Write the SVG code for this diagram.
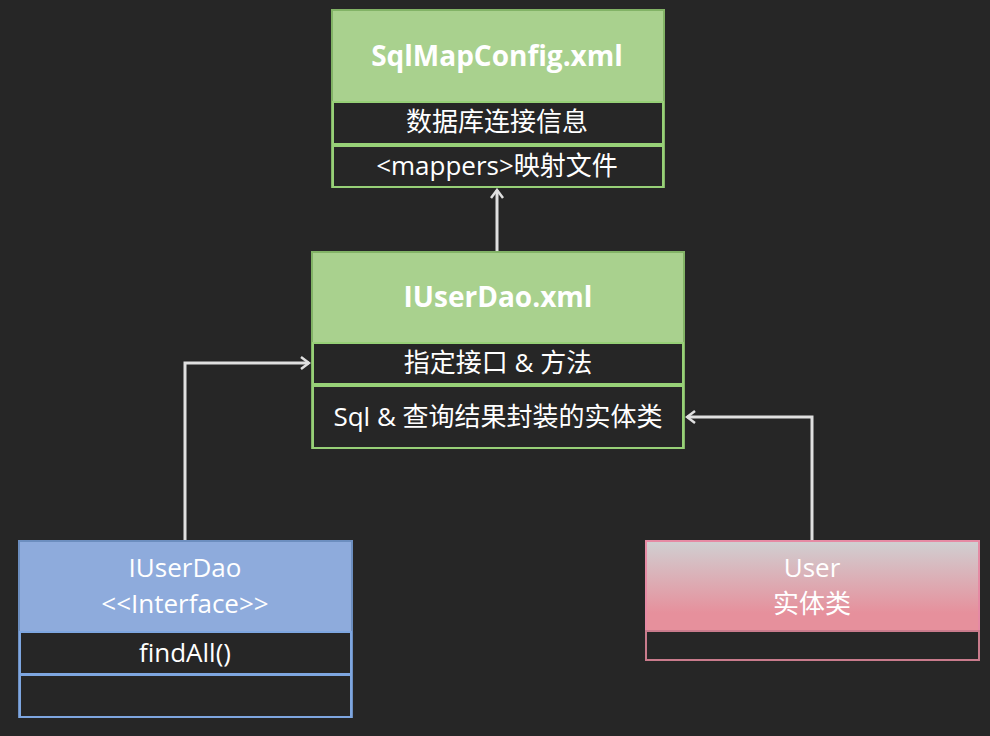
<svg xmlns="http://www.w3.org/2000/svg" width="990" height="736" viewBox="0 0 990 736">
<defs>
<style>
text{font-family:"Open Sans","Noto Sans CJK SC",sans-serif;fill:#ffffff;text-anchor:middle;dominant-baseline:central;font-size:26px}
.title{font-weight:bold;font-size:28px}
.g{stroke:#82b366;stroke-width:2;fill:#a9d18e}
.gr{stroke:#97d077;stroke-width:2;fill:#262626}
.b{stroke:#6c8ebf;stroke-width:2;fill:#8eabdc}
.br{stroke:#7ea6e0;stroke-width:2;fill:#262626}
.p{stroke:#e68aa4;stroke-width:2;fill:url(#pg)}
.pr{stroke:#c97b8c;stroke-width:2;fill:#262626}
.c{fill:none;stroke:#e0e0e0;stroke-width:3;marker-end:url(#arr)}
</style>
<linearGradient id="pg" x1="0" y1="0" x2="0" y2="1">
<stop offset="0" stop-color="#d0d0d2"/>
<stop offset="0.8" stop-color="#e6909c"/>
<stop offset="1" stop-color="#e6909c"/>
</linearGradient>
<marker id="arr" markerWidth="12" markerHeight="14" refX="10" refY="7" orient="auto" markerUnits="userSpaceOnUse">
<path d="M2,1 L10,7 L2,13" fill="none" stroke="#e0e0e0" stroke-width="2.5"/>
</marker>
</defs>
<rect width="990" height="736" fill="#262626"/>
<g id="connectors">
<path class="c" d="M497,251 V190"/>
<path class="c" d="M185,540 V363 H309"/>
<path class="c" d="M812,540 V417 H687"/>
</g>
<g id="sqlmapconfig">
<rect class="g" x="332" y="10" width="332" height="177"/>
<rect class="gr" x="333" y="102" width="330" height="42"/>
<rect class="gr" x="333" y="146" width="330" height="41"/>
<text class="title" x="497" y="55">SqlMapConfig.xml</text>
<text x="497" y="121">数据库连接信息</text>
<text x="497" y="165">&lt;mappers&gt;映射文件</text>
</g>
<g id="iuserdaoxml">
<rect class="g" x="312" y="252" width="372" height="196"/>
<rect class="gr" x="313" y="343" width="370" height="41"/>
<rect class="gr" x="313" y="386" width="370" height="62"/>
<text class="title" x="498" y="296">IUserDao.xml</text>
<text x="498" y="362">指定接口 &amp; 方法</text>
<text x="498" y="416">Sql &amp; 查询结果封装的实体类</text>
</g>
<g id="iuserdao">
<rect class="b" x="19" y="541" width="333" height="176"/>
<rect class="br" x="20" y="632" width="331" height="42"/>
<rect class="br" x="20" y="675" width="331" height="42"/>
<text x="185" y="567">IUserDao</text>
<text x="185" y="603">&lt;&lt;Interface&gt;&gt;</text>
<text x="185" y="652">findAll()</text>
</g>
<g id="user">
<rect class="p" x="646" y="541" width="333" height="90"/>
<rect class="pr" x="646" y="631" width="333" height="29"/>
<text x="812" y="567">User</text>
<text x="812" y="603">实体类</text>
</g>
</svg>
